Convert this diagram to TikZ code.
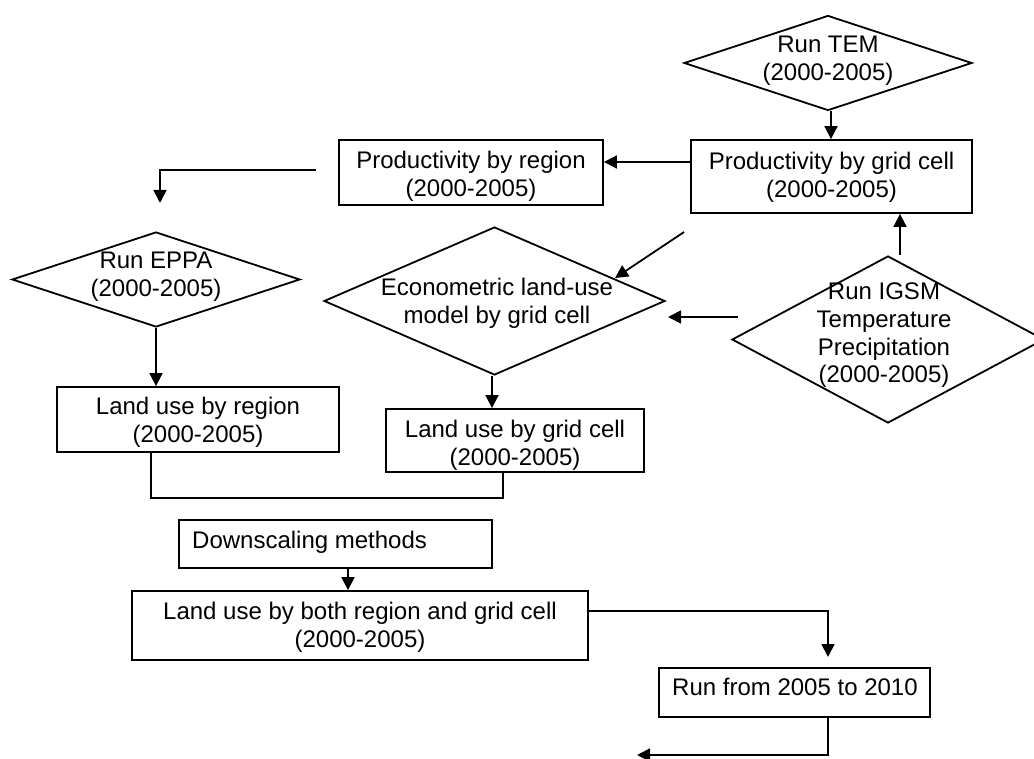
\documentclass[tikz,border=0pt]{standalone}
\usepackage{fontspec}
\setmainfont{Liberation Sans}
\usetikzlibrary{shapes.geometric,arrows.meta}
\tikzset{
  txt/.style={font=\fontsize{24}{27.7}\selectfont, align=center, inner sep=0pt},
  ltxt/.style={font=\fontsize{24}{27.7}\selectfont, inner sep=0pt, anchor=west},
  box/.style={draw, line width=1.8pt, inner sep=0pt},
  dia/.style={draw, diamond, line width=1.8pt, inner sep=0pt},
  arr/.style={line width=1.8pt, -{Triangle[length=13pt,width=13pt]}},
  con/.style={line width=1.8pt}
}
\begin{document}
\begin{tikzpicture}[x=1pt,y=-1pt]
\useasboundingbox (0,0) rectangle (1034,759);
% diamonds
\node[dia, minimum width=288pt, minimum height=95pt] (tem) at (828,63) {};
\node[txt] (temt) at (828,61) {Run TEM\\(2000-2005)};
\node[dia, minimum width=288pt, minimum height=95pt] (eppa) at (156,279.5) {};
\node[txt] (eppat) at (156,277) {Run EPPA\\(2000-2005)};
\node[dia, minimum width=341pt, minimum height=148pt] (econ) at (494.5,301) {};
\node[txt] (econt) at (497,303.5) {Econometric land-use\\model by grid cell};
\node[dia, minimum width=312pt, minimum height=167pt] (igsm) at (888,339.5) {};
\node[txt] (igsmt) at (884,335.5) {Run IGSM\\Temperature\\Precipitation\\(2000-2005)};
% boxes
\node[box, minimum width=281pt, minimum height=73pt] (progrid) at (831.5,176.5) {};
\node[txt] (progridt) at (831.5,177.5) {Productivity by grid cell\\(2000-2005)};
\node[box, minimum width=264pt, minimum height=65pt] (proreg) at (471,172.5) {};
\node[txt] (proregt) at (471,176.5) {Productivity by region\\(2000-2005)};
\node[box, minimum width=282pt, minimum height=65pt] (landreg) at (198,419.5) {};
\node[txt] (landregt) at (198,422.5) {Land use by region\\(2000-2005)};
\node[box, minimum width=258pt, minimum height=63pt] (landgrid) at (515,440.5) {};
\node[txt] (landgridt) at (515,445) {Land use by grid cell\\(2000-2005)};
\node[box, minimum width=313pt, minimum height=48pt] (down) at (335.5,544) {};
\node[ltxt] (downt) at (192,542) {Downscaling methods};
\node[box, minimum width=456pt, minimum height=69pt] (both) at (360,625.5) {};
\node[txt] (botht) at (360,627.5) {Land use by both region and grid cell\\(2000-2005)};
\node[box, minimum width=271pt, minimum height=49pt] (run) at (794.5,692.5) {};
\node[ltxt] (runt) at (672,686.5) {Run from 2005 to 2010};
% free ends
\coordinate (l1) at (316,170);
\coordinate (l2) at (160,203);
\coordinate (d1) at (684,232);
\coordinate (d2) at (615,278);
\coordinate (h1) at (738,317);
\coordinate (h2) at (668,317);
\coordinate (r1) at (828,657);
\coordinate (b1) at (637,755);
% connectors
\draw[arr] ([xshift=3pt]tem.south) -- ([xshift=3pt]tem.south |- progrid.north);
\draw[arr] ([yshift=14.5pt]progrid.west) -- ([yshift=14.5pt]progrid.west -| proreg.east);
\draw[arr] (l1) -| (l2);
\draw[arr] (eppa.south) -- (eppa.south |- landreg.north);
\draw[arr] ([xshift=-2.5pt]econ.south) -- ([xshift=-2.5pt]econ.south |- landgrid.north);
\draw[arr] (d1) -- (d2);
\draw[arr] (h1) -- (h2);
\draw[arr] ([xshift=12pt]igsm.north) -- ([xshift=12pt]igsm.north |- progrid.south);
\draw[con] ([xshift=-47pt]landreg.south) -- ++(0,45) -| ([xshift=-12pt]landgrid.south);
\draw[arr] ([xshift=12.5pt]down.south) -- ([xshift=12.5pt]down.south |- both.north);
\draw[arr] ([yshift=14.5pt]both.east) -| (r1);
\draw[arr] ([xshift=33.5pt]run.south) |- (b1);
\end{tikzpicture}
\end{document}
